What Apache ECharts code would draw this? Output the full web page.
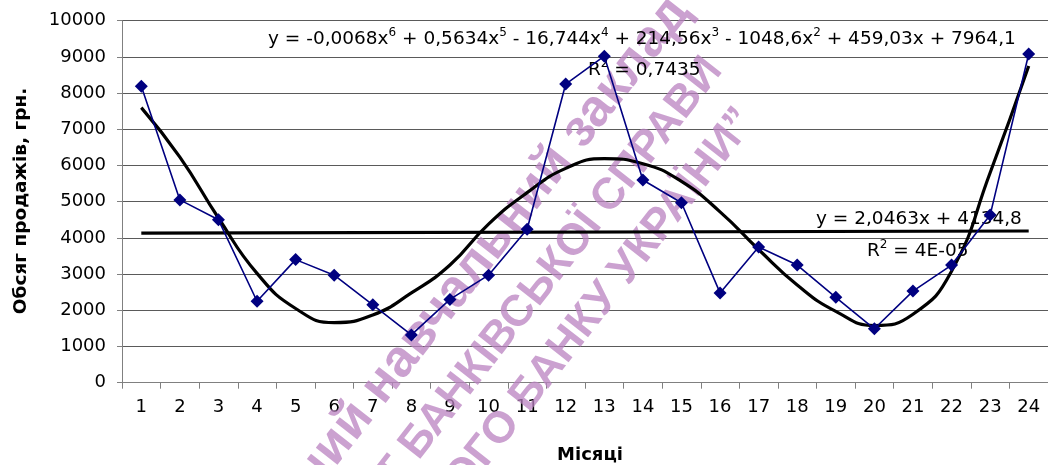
<!DOCTYPE html>
<html>
<head>
<meta charset="utf-8">
<script src="https://cdn.jsdelivr.net/npm/echarts@6/dist/echarts.min.js"></script>
<style>
html,body{margin:0;padding:0;background:#fff;}
#chart{width:1048px;height:465px;}
</style>
</head>
<body>
<div id="chart"></div>
<script>
// ---- data ----
var months = ['1','2','3','4','5','6','7','8','9','10','11','12','13','14','15','16','17','18','19','20','21','22','23','24'];
var sales = [8190, 5050, 4500, 2250, 3400, 2970, 2150, 1320, 2300, 2970, 4240, 8250, 9020, 5600, 4970, 2480, 3750, 3250, 2360, 1490, 2530, 3250, 4630, 9080];
// polynomial trend line (month, value)
var polyTrendX = [1,2,3,4,5,6,7,8,9,10,11,12,13,14,15,16,17,18,19,20,21,22,23,24];
var polyTrendY = [7600, 6230, 4550, 3020, 2050, 1660, 1870, 2480, 3250, 4380, 5250, 5920, 6190, 6050, 5560, 4720, 3680, 2700, 1970, 1580, 1890, 3080, 5800, 8750];
// linear trend line end points
var linTrendX = [1, 24];
var linTrendY = [4130, 4190];
var yTicks = {min: 0, max: 10000, step: 1000};
var polyEq = [['y = -0,0068x','6'],[' + 0,5634x','5'],[' - 16,744x','4'],[' + 214,56x','3'],[' - 1048,6x','2'],[' + 459,03x + 7964,1','']];
var polyR2 = ['R','2',' = 0,7435'];
var linEq = 'y = 2,0463x + 4134,8';
var linR2 = ['R','2',' = 4E-05'];
var yTitle = 'Обсяг продажів, грн.';
var xTitle = 'Місяці';
var wmLines = ['Державний вищий навчальний заклад', '„УНІВЕРСИТЕТ БАНКІВСЬКОЇ СПРАВИ', 'НАЦІОНАЛЬНОГО БАНКУ УКРАЇНИ”'];

// ---- build ----
var FONT = "'DejaVu Sans', sans-serif";
var WMFONT = "'Liberation Sans', Arial, sans-serif";
function pairs(xs, ys){ return xs.map(function(x,i){ return [x, ys[i]]; }); }
function richEq(parts){
  var s = '';
  parts.forEach(function(p){ s += '{n|' + p[0] + '}'; if (p[1]) s += '{s|' + p[1] + '}'; });
  return s;
}
var rich = {
  n: {fontSize: 18.5, fontFamily: FONT, color: '#000', lineHeight: 24},
  s: {fontSize: 12, fontFamily: FONT, color: '#000', lineHeight: 14, verticalAlign: 'top'}
};
var chart = echarts.init(document.getElementById('chart'), null, {renderer: 'canvas'});
var wmColor = 'rgba(185,130,192,0.75)';
var wmAngle = 52 * Math.PI / 180;
function wm(text, x, y, size){
  return {type: 'text', z: 1, x: x, y: y, rotation: wmAngle,
    style: {text: text, font: 'bold ' + size + 'px ' + WMFONT, fill: wmColor, textAlign: 'right', textVerticalAlign: 'middle'}};
}
var option = {
  backgroundColor: '#fff',
  animation: false,
  grid: {left: 122, right: -8, top: 20.7, bottom: 82.3, containLabel: false},
  xAxis: [{
    type: 'category', data: months, boundaryGap: true,
    axisLine: {lineStyle: {color: '#808080', width: 1}},
    axisTick: {show: true, inside: false, length: 6, lineStyle: {color: '#808080'}},
    axisLabel: {color: '#000', fontSize: 18, fontFamily: FONT, margin: 16},
    splitLine: {show: false}
  }, {
    type: 'value', min: 0.5, max: 24.5, show: false
  }],
  yAxis: {
    type: 'value', min: yTicks.min, max: yTicks.max, interval: yTicks.step,
    axisLine: {show: true, lineStyle: {color: '#808080', width: 1}},
    axisTick: {show: true, length: 5, lineStyle: {color: '#808080'}},
    axisLabel: {color: '#000', fontSize: 18, fontFamily: FONT, margin: 16,
      formatter: function(v){ return String(v); }},
    splitLine: {show: true, lineStyle: {color: '#5a5a5a', width: 1}}
  },
  graphic: [
    {type: 'text', z: 1, x: 21, y: 201, rotation: Math.PI / 2,
     style: {text: yTitle, font: 'bold 18.5px ' + FONT, fill: '#000', textAlign: 'center', textVerticalAlign: 'middle'}},
    {type: 'text', z: 1, x: 590, y: 455,
     style: {text: xTitle, font: 'bold 18px ' + FONT, fill: '#000', textAlign: 'center', textVerticalAlign: 'middle'}},
    wm(wmLines[0], 680, 3, 52),
    wm(wmLines[1], 714, 63, 44),
    wm(wmLines[2], 747, 114, 44),
    {type: 'text', z: 1, x: 268, y: 39,
     style: {text: richEq(polyEq), rich: rich, textAlign: 'left', textVerticalAlign: 'middle'}},
    {type: 'text', z: 1, x: 588, y: 70,
     style: {text: '{n|' + polyR2[0] + '}{s|' + polyR2[1] + '}{n|' + polyR2[2] + '}', rich: rich, textAlign: 'left', textVerticalAlign: 'middle'}},
    {type: 'text', z: 1, x: 816, y: 219,
     style: {text: '{n|' + linEq + '}', rich: rich, textAlign: 'left', textVerticalAlign: 'middle'}},
    {type: 'text', z: 1, x: 867, y: 251,
     style: {text: '{n|' + linR2[0] + '}{s|' + linR2[1] + '}{n|' + linR2[2] + '}', rich: rich, textAlign: 'left', textVerticalAlign: 'middle'}}
  ],
  series: [
    {
      name: 'sales', type: 'line', xAxisIndex: 0, data: sales, z: 5,
      symbol: 'diamond', symbolSize: 13, showAllSymbol: true,
      lineStyle: {color: '#000080', width: 1.6},
      itemStyle: {color: '#000080', borderWidth: 0}
    },
    {
      name: 'poly', type: 'line', xAxisIndex: 1, data: pairs(polyTrendX, polyTrendY), z: 4,
      smooth: 0.5, symbol: 'none',
      lineStyle: {color: '#000', width: 3.2}
    },
    {
      name: 'linear', type: 'line', xAxisIndex: 1, data: pairs(linTrendX, linTrendY), z: 4,
      symbol: 'none',
      lineStyle: {color: '#000', width: 3.2}
    }
  ]
};
chart.setOption(option);
</script>
</body>
</html>
